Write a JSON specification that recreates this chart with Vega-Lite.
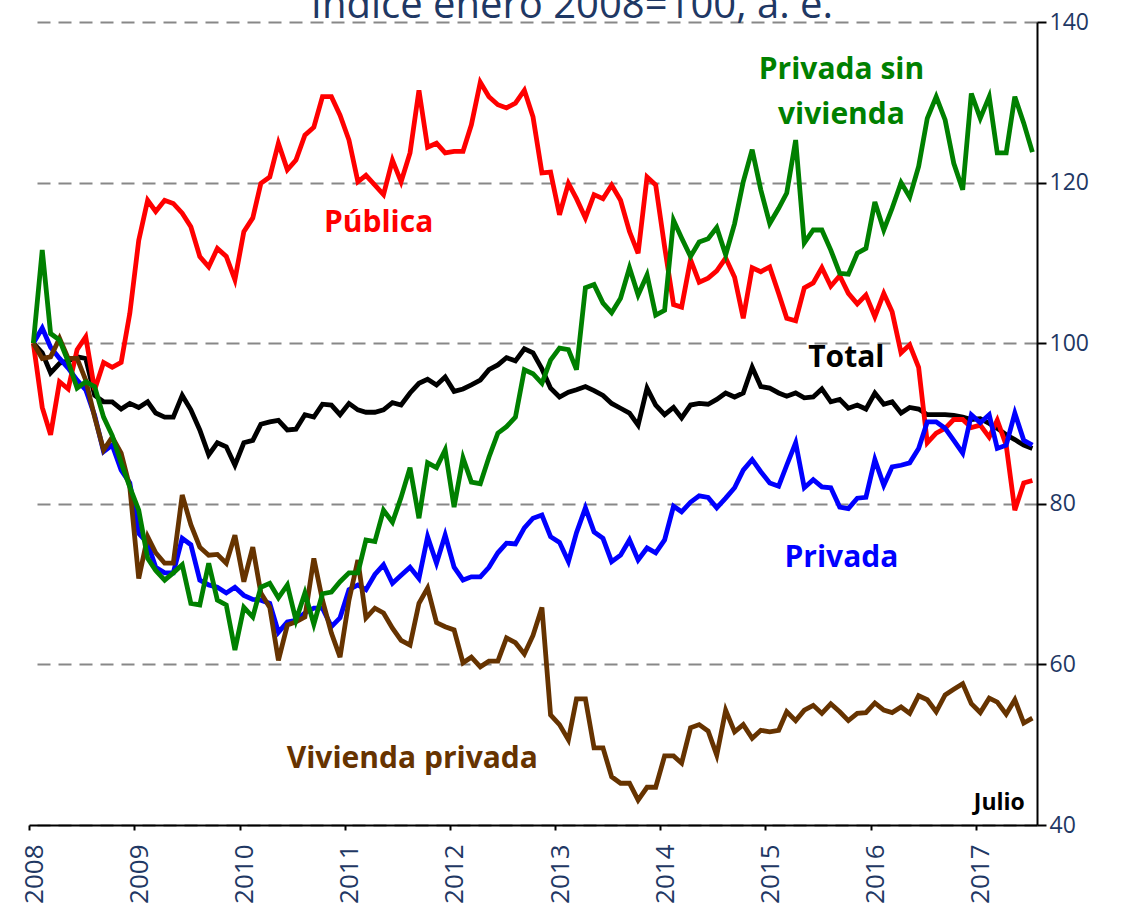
{
  "$schema": "https://vega.github.io/schema/vega-lite/v6.json",
  "width": 1008,
  "height": 803,
  "autosize": {"type": "none"},
  "padding": {"left": 29, "top": 22, "right": 103, "bottom": 88},
  "background": "white",
  "config": {"view": {"stroke": null}, "font": "Open Sans"},
  "layer": [
    {
      "data": {"values": [
        {"date":"2008-01-16","total":100,"publica":100,"privada":100,"psv":100,"vivienda":100},
        {"date":"2008-02-16","total":98.8,"publica":92,"privada":101.9,"psv":111.6,"vivienda":98.1},
        {"date":"2008-03-16","total":96.3,"publica":88.6,"privada":99.5,"psv":101.2,"vivienda":98.3},
        {"date":"2008-04-16","total":97.5,"publica":95.2,"privada":98.1,"psv":100.4,"vivienda":100.6},
        {"date":"2008-05-16","total":97.8,"publica":94.3,"privada":96.9,"psv":97.7,"vivienda":98.1},
        {"date":"2008-06-16","total":98.3,"publica":99.2,"privada":95.4,"psv":94.4,"vivienda":98.1},
        {"date":"2008-07-16","total":98.1,"publica":100.8,"privada":94.2,"psv":95.2,"vivienda":95.4},
        {"date":"2008-08-16","total":93.5,"publica":94.2,"privada":91,"psv":94.6,"vivienda":90.8},
        {"date":"2008-09-16","total":92.7,"publica":97.6,"privada":86.5,"psv":90.8,"vivienda":86.7},
        {"date":"2008-10-16","total":92.7,"publica":97,"privada":87.3,"psv":88.5,"vivienda":88.3},
        {"date":"2008-11-16","total":91.8,"publica":97.6,"privada":84.2,"psv":85.1,"vivienda":86.3},
        {"date":"2008-12-16","total":92.5,"publica":103.7,"privada":82.6,"psv":82.1,"vivienda":82.1},
        {"date":"2009-01-16","total":92,"publica":112.8,"privada":76.3,"psv":79.2,"vivienda":70.7},
        {"date":"2009-02-16","total":92.7,"publica":117.8,"privada":75.1,"psv":73.2,"vivienda":75.9},
        {"date":"2009-03-16","total":91.3,"publica":116.4,"privada":72.1,"psv":71.7,"vivienda":73.9},
        {"date":"2009-04-16","total":90.8,"publica":117.8,"privada":71.4,"psv":70.5,"vivienda":72.6},
        {"date":"2009-05-16","total":90.8,"publica":117.4,"privada":71.4,"psv":71.4,"vivienda":72.6},
        {"date":"2009-06-16","total":93.5,"publica":116.2,"privada":75.7,"psv":72.4,"vivienda":81.1},
        {"date":"2009-07-16","total":91.7,"publica":114.5,"privada":74.9,"psv":67.6,"vivienda":77.4},
        {"date":"2009-08-16","total":89.2,"publica":110.8,"privada":70.5,"psv":67.4,"vivienda":74.6},
        {"date":"2009-09-16","total":86.1,"publica":109.5,"privada":69.9,"psv":72.6,"vivienda":73.6},
        {"date":"2009-10-16","total":87.6,"publica":111.8,"privada":69.6,"psv":68,"vivienda":73.7},
        {"date":"2009-11-16","total":87.1,"publica":110.8,"privada":68.9,"psv":67.4,"vivienda":72.6},
        {"date":"2009-12-16","total":84.8,"publica":107.9,"privada":69.6,"psv":61.8,"vivienda":76.1},
        {"date":"2010-01-16","total":87.6,"publica":113.9,"privada":68.6,"psv":67.1,"vivienda":70.3},
        {"date":"2010-02-16","total":87.9,"publica":115.6,"privada":68.1,"psv":65.9,"vivienda":74.6},
        {"date":"2010-03-16","total":89.9,"publica":119.9,"privada":68,"psv":69.6,"vivienda":68.9},
        {"date":"2010-04-16","total":90.2,"publica":120.7,"privada":67.6,"psv":70.1,"vivienda":67.1},
        {"date":"2010-05-16","total":90.4,"publica":124.9,"privada":64,"psv":68.3,"vivienda":60.5},
        {"date":"2010-06-16","total":89.2,"publica":121.6,"privada":65.3,"psv":69.9,"vivienda":64.9},
        {"date":"2010-07-16","total":89.3,"publica":122.8,"privada":65.5,"psv":65.5,"vivienda":65.3},
        {"date":"2010-08-16","total":91.1,"publica":125.9,"privada":66.4,"psv":68.9,"vivienda":65.9},
        {"date":"2010-09-16","total":90.8,"publica":126.9,"privada":67,"psv":65,"vivienda":73.2},
        {"date":"2010-10-16","total":92.4,"publica":130.7,"privada":67,"psv":68.8,"vivienda":68},
        {"date":"2010-11-16","total":92.3,"publica":130.7,"privada":64.7,"psv":69,"vivienda":63.9},
        {"date":"2010-12-16","total":91.1,"publica":128.4,"privada":65.8,"psv":70.3,"vivienda":60.9},
        {"date":"2011-01-16","total":92.5,"publica":125.3,"privada":69.3,"psv":71.4,"vivienda":68},
        {"date":"2011-02-16","total":91.7,"publica":120.1,"privada":69.9,"psv":71.4,"vivienda":73},
        {"date":"2011-03-16","total":91.4,"publica":120.9,"privada":69.3,"psv":75.5,"vivienda":65.8},
        {"date":"2011-04-16","total":91.4,"publica":119.7,"privada":71.2,"psv":75.3,"vivienda":67},
        {"date":"2011-05-16","total":91.7,"publica":118.5,"privada":72.4,"psv":79.2,"vivienda":66.4},
        {"date":"2011-06-16","total":92.6,"publica":122.8,"privada":70.1,"psv":77.7,"vivienda":64.5},
        {"date":"2011-07-16","total":92.3,"publica":120.1,"privada":71.1,"psv":80.8,"vivienda":63},
        {"date":"2011-08-16","total":93.8,"publica":123.7,"privada":72.1,"psv":84.5,"vivienda":62.4},
        {"date":"2011-09-16","total":95,"publica":131.5,"privada":70.7,"psv":78.2,"vivienda":67.6},
        {"date":"2011-10-16","total":95.5,"publica":124.4,"privada":75.9,"psv":85.1,"vivienda":69.5},
        {"date":"2011-11-16","total":94.8,"publica":124.9,"privada":72.6,"psv":84.5,"vivienda":65.2},
        {"date":"2011-12-16","total":95.8,"publica":123.7,"privada":76.1,"psv":86.7,"vivienda":64.7},
        {"date":"2012-01-16","total":94,"publica":123.9,"privada":72.1,"psv":79.6,"vivienda":64.3},
        {"date":"2012-02-16","total":94.3,"publica":123.9,"privada":70.5,"psv":85.7,"vivienda":60.2},
        {"date":"2012-03-16","total":94.8,"publica":127.2,"privada":70.9,"psv":82.7,"vivienda":60.9},
        {"date":"2012-04-16","total":95.4,"publica":132.5,"privada":70.9,"psv":82.5,"vivienda":59.7},
        {"date":"2012-05-16","total":96.7,"publica":130.7,"privada":72.1,"psv":85.8,"vivienda":60.4},
        {"date":"2012-06-16","total":97.3,"publica":129.7,"privada":73.9,"psv":88.8,"vivienda":60.4},
        {"date":"2012-07-16","total":98.2,"publica":129.3,"privada":75.1,"psv":89.6,"vivienda":63.3},
        {"date":"2012-08-16","total":97.8,"publica":129.9,"privada":75,"psv":90.8,"vivienda":62.7},
        {"date":"2012-09-16","total":99.3,"publica":131.5,"privada":77,"psv":96.7,"vivienda":61.3},
        {"date":"2012-10-16","total":98.8,"publica":128.2,"privada":78.2,"psv":96.2,"vivienda":63.6},
        {"date":"2012-11-16","total":96.8,"publica":121.2,"privada":78.6,"psv":95,"vivienda":67.1},
        {"date":"2012-12-16","total":94.4,"publica":121.3,"privada":75.9,"psv":97.9,"vivienda":53.7},
        {"date":"2013-01-16","total":93.3,"publica":116,"privada":75.2,"psv":99.4,"vivienda":52.5},
        {"date":"2013-02-16","total":93.9,"publica":119.9,"privada":72.8,"psv":99.2,"vivienda":50.6},
        {"date":"2013-03-16","total":94.2,"publica":118,"privada":76.4,"psv":96.7,"vivienda":55.7},
        {"date":"2013-04-16","total":94.6,"publica":115.6,"privada":79.5,"psv":106.9,"vivienda":55.7},
        {"date":"2013-05-16","total":94.1,"publica":118.5,"privada":76.5,"psv":107.3,"vivienda":49.6},
        {"date":"2013-06-16","total":93.5,"publica":118,"privada":75.7,"psv":105,"vivienda":49.6},
        {"date":"2013-07-16","total":92.5,"publica":119.7,"privada":72.8,"psv":103.8,"vivienda":46},
        {"date":"2013-08-16","total":91.9,"publica":117.8,"privada":73.6,"psv":105.6,"vivienda":45.2},
        {"date":"2013-09-16","total":91.3,"publica":113.9,"privada":75.5,"psv":109.4,"vivienda":45.2},
        {"date":"2013-10-16","total":89.8,"publica":111.2,"privada":73,"psv":106,"vivienda":43.1},
        {"date":"2013-11-16","total":94.4,"publica":120.7,"privada":74.5,"psv":108.5,"vivienda":44.7},
        {"date":"2013-12-16","total":92.3,"publica":119.7,"privada":73.9,"psv":103.5,"vivienda":44.7},
        {"date":"2014-01-16","total":91.1,"publica":112,"privada":75.5,"psv":104.1,"vivienda":48.6},
        {"date":"2014-02-16","total":92,"publica":104.8,"privada":79.7,"psv":115.3,"vivienda":48.6},
        {"date":"2014-03-16","total":90.7,"publica":104.5,"privada":79,"psv":113.1,"vivienda":47.7},
        {"date":"2014-04-16","total":92.3,"publica":110.4,"privada":80.2,"psv":110.8,"vivienda":52.1},
        {"date":"2014-05-16","total":92.5,"publica":107.6,"privada":81,"psv":112.6,"vivienda":52.5},
        {"date":"2014-06-16","total":92.4,"publica":108.1,"privada":80.8,"psv":113,"vivienda":51.7},
        {"date":"2014-07-16","total":93,"publica":109,"privada":79.5,"psv":114.4,"vivienda":48.7},
        {"date":"2014-08-16","total":93.8,"publica":110.6,"privada":80.7,"psv":111,"vivienda":54.3},
        {"date":"2014-09-16","total":93.3,"publica":108.2,"privada":82,"psv":114.9,"vivienda":51.6},
        {"date":"2014-10-16","total":93.8,"publica":103.1,"privada":84.2,"psv":120.1,"vivienda":52.5},
        {"date":"2014-11-16","total":97,"publica":109.4,"privada":85.5,"psv":124.1,"vivienda":50.8},
        {"date":"2014-12-16","total":94.6,"publica":108.9,"privada":84,"psv":119.1,"vivienda":51.8},
        {"date":"2015-01-16","total":94.4,"publica":109.5,"privada":82.6,"psv":114.9,"vivienda":51.6},
        {"date":"2015-02-16","total":93.8,"publica":106.2,"privada":82.2,"psv":116.8,"vivienda":51.8},
        {"date":"2015-03-16","total":93.4,"publica":103.1,"privada":84.8,"psv":118.7,"vivienda":54.1},
        {"date":"2015-04-16","total":93.8,"publica":102.8,"privada":87.6,"psv":125.3,"vivienda":53},
        {"date":"2015-05-16","total":93.2,"publica":106.9,"privada":82,"psv":112.5,"vivienda":54.3},
        {"date":"2015-06-16","total":93.3,"publica":107.5,"privada":83,"psv":114.1,"vivienda":54.9},
        {"date":"2015-07-16","total":94.3,"publica":109.4,"privada":82.1,"psv":114.1,"vivienda":53.9},
        {"date":"2015-08-16","total":92.7,"publica":107.1,"privada":82,"psv":111.6,"vivienda":55.1},
        {"date":"2015-09-16","total":93,"publica":108.4,"privada":79.6,"psv":108.7,"vivienda":54.1},
        {"date":"2015-10-16","total":91.9,"publica":106.2,"privada":79.4,"psv":108.6,"vivienda":53},
        {"date":"2015-11-16","total":92.3,"publica":104.9,"privada":80.7,"psv":111.2,"vivienda":53.9},
        {"date":"2015-12-16","total":91.8,"publica":106,"privada":80.8,"psv":111.8,"vivienda":54},
        {"date":"2016-01-16","total":93.8,"publica":103.3,"privada":85.5,"psv":117.6,"vivienda":55.2},
        {"date":"2016-02-16","total":92.4,"publica":106.2,"privada":82.3,"psv":114.1,"vivienda":54.3},
        {"date":"2016-03-16","total":92.7,"publica":103.9,"privada":84.6,"psv":116.8,"vivienda":54},
        {"date":"2016-04-16","total":91.3,"publica":98.8,"privada":84.8,"psv":120,"vivienda":54.7},
        {"date":"2016-05-16","total":92,"publica":99.8,"privada":85.1,"psv":118.2,"vivienda":53.9},
        {"date":"2016-06-16","total":91.8,"publica":97,"privada":86.9,"psv":122,"vivienda":56.1},
        {"date":"2016-07-16","total":91.1,"publica":87.6,"privada":90.2,"psv":128,"vivienda":55.6},
        {"date":"2016-08-16","total":91.1,"publica":88.8,"privada":90.2,"psv":130.7,"vivienda":54.1},
        {"date":"2016-09-16","total":91.1,"publica":89.4,"privada":89.4,"psv":127.8,"vivienda":56.2},
        {"date":"2016-10-16","total":91,"publica":90.5,"privada":87.9,"psv":122.4,"vivienda":56.9},
        {"date":"2016-11-16","total":90.8,"publica":90.5,"privada":86.3,"psv":119.1,"vivienda":57.6},
        {"date":"2016-12-16","total":90.5,"publica":89.5,"privada":91.1,"psv":131.1,"vivienda":55.1},
        {"date":"2017-01-16","total":90.6,"publica":89.8,"privada":90.1,"psv":128,"vivienda":54},
        {"date":"2017-02-16","total":90,"publica":88.3,"privada":91.1,"psv":130.7,"vivienda":55.8},
        {"date":"2017-03-16","total":89.4,"publica":90.4,"privada":86.9,"psv":123.7,"vivienda":55.3},
        {"date":"2017-04-16","total":88.6,"publica":87.3,"privada":87.3,"psv":123.7,"vivienda":53.8},
        {"date":"2017-05-16","total":88,"publica":79.2,"privada":91.3,"psv":130.7,"vivienda":55.6},
        {"date":"2017-06-16","total":87.3,"publica":82.6,"privada":87.9,"psv":127.4,"vivienda":52.7},
        {"date":"2017-07-16","total":86.9,"publica":82.9,"privada":87.3,"psv":123.8,"vivienda":53.3}
      ]},
      "transform": [{"fold": ["total", "publica", "privada", "vivienda", "psv"], "as": ["serie", "valor"]}],
      "mark": {"type": "line", "strokeWidth": 4.8},
      "encoding": {
        "x": {
          "field": "date", "type": "temporal",
          "scale": {"type": "utc", "domain": [1199145600000, 1501545600000]},
          "axis": {"title": null, "format": "%Y", "values": [1199145600000, 1230768000000, 1262304000000, 1293840000000, 1325376000000, 1356998400000, 1388534400000, 1420070400000, 1451606400000, 1483228800000], "labelAngle": 270, "labelFontSize": 26, "labelColor": "#1F3864", "labelFont": "Open Sans", "labelPadding": 14, "labelOffset": 5, "tickSize": 5, "tickColor": "black", "tickWidth": 2, "domainColor": "black", "domainWidth": 2, "grid": false, "labelFlush": false, "labelOverlap": false, "zindex": 1}
        },
        "y": {
          "field": "valor", "type": "quantitative",
          "scale": {"domain": [40, 140], "nice": false, "zero": false},
          "axis": {"orient": "right", "title": null, "values": [40, 60, 80, 100, 120, 140], "labelFontSize": 23, "labelColor": "#1F3864", "labelFont": "Open Sans", "labelPadding": 3, "tickSize": 9, "tickColor": "black", "tickWidth": 2, "domainColor": "black", "domainWidth": 2, "grid": true, "gridColor": "#888888", "gridWidth": 2, "gridDash": [13, 8], "zindex": 0}
        },
        "color": {"field": "serie", "type": "nominal", "scale": {"domain": ["total", "publica", "privada", "vivienda", "psv"], "range": ["#000000", "#FF0000", "#0000FF", "#663300", "#008000"]}, "legend": null}
      }
    },
    {
      "data": {"values": [
        {"date": "2015-09-22", "valor": 132.9, "label": "Privada sin", "serie": "psv"},
        {"date": "2015-09-22", "valor": 127.3, "label": "vivienda", "serie": "psv"},
        {"date": "2011-04-29", "valor": 113.8, "label": "Pública", "serie": "publica"},
        {"date": "2015-10-09", "valor": 97.0, "label": "Total", "serie": "total"},
        {"date": "2015-09-22", "valor": 72.1, "label": "Privada", "serie": "privada"},
        {"date": "2011-08-24", "valor": 47.1, "label": "Vivienda privada", "serie": "vivienda"}
      ]},
      "mark": {"type": "text", "font": "Open Sans", "fontWeight": "bold", "fontSize": 30, "align": "center", "baseline": "alphabetic"},
      "encoding": {
        "x": {"field": "date", "type": "temporal"},
        "y": {"field": "valor", "type": "quantitative"},
        "text": {"field": "label"},
        "color": {"field": "serie", "type": "nominal", "legend": null}
      }
    },
    {
      "data": {"values": [{"date": "2017-03-23", "valor": 41.9, "label": "Julio"}]},
      "mark": {"type": "text", "font": "Open Sans", "fontWeight": "bold", "fontSize": 23, "align": "center", "baseline": "alphabetic", "color": "#000000"},
      "encoding": {
        "x": {"field": "date", "type": "temporal"},
        "y": {"field": "valor", "type": "quantitative"},
        "text": {"field": "label"}
      }
    },
    {
      "data": {"values": [{"date": "2013-02-28", "valor": 140.5, "label": "Índice enero 2008=100, a. e."}]},
      "mark": {"type": "text", "font": "Open Sans", "fontWeight": "normal", "fontSize": 40, "align": "center", "baseline": "alphabetic", "color": "#1F3864"},
      "encoding": {
        "x": {"field": "date", "type": "temporal"},
        "y": {"field": "valor", "type": "quantitative"},
        "text": {"field": "label"}
      }
    }
  ]
}
